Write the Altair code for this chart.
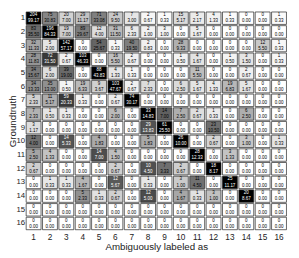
import altair as alt
import pandas as pd

labels = list(range(1, 17))

counts = [
    [204, 75, 20, 29, 71, 24, 7, 2, 1, 15, 5, 4, 1, 0, 0, 1],
    [83, 196, 19, 89, 12, 31, 6, 2, 3, 0, 5, 0, 0, 0, 0, 0],
    [32, 5, 142, 0, 54, 1, 40, 2, 0, 28, 0, 0, 0, 0, 12, 1],
    [28, 72, 2, 103, 0, 16, 2, 0, 0, 1, 4, 0, 1, 3, 0, 1],
    [34, 6, 39, 0, 88, 4, 1, 0, 0, 0, 11, 0, 0, 2, 0, 0],
    [34, 35, 1, 19, 9, 103, 2, 7, 0, 6, 5, 4, 19, 5, 0, 0],
    [5, 11, 59, 1, 0, 2, 74, 0, 0, 0, 0, 0, 0, 0, 0, 0],
    [7, 1, 1, 0, 0, 6, 0, 33, 14, 7, 2, 1, 0, 6, 0, 0],
    [3, 0, 0, 0, 0, 0, 0, 29, 61, 0, 0, 23, 0, 0, 0, 0],
    [12, 0, 14, 0, 4, 0, 0, 5, 0, 26, 0, 2, 0, 3, 0, 1],
    [5, 4, 0, 0, 14, 4, 0, 0, 0, 0, 28, 0, 3, 0, 0, 0],
    [2, 0, 0, 0, 0, 2, 0, 10, 7, 2, 0, 18, 0, 0, 0, 0],
    [0, 1, 1, 4, 0, 12, 0, 1, 0, 3, 11, 0, 25, 0, 0, 0],
    [0, 0, 0, 5, 1, 2, 0, 12, 0, 4, 1, 3, 0, 20, 0, 0],
    [0, 0, 0, 0, 0, 0, 0, 0, 0, 0, 0, 0, 0, 0, 0, 0],
    [0, 0, 0, 0, 0, 0, 0, 0, 0, 0, 0, 0, 0, 0, 0, 0],
]

percents = [
    [99.17, 30.83, 7.00, 11.17, 33.08, 9.50, 3.00, 0.67, 0.33, 5.17, 2.17, 1.33, 0.33, 0, 0, 0.33],
    [35.50, 84.33, 7.00, 29.67, 4.00, 11.50, 2.33, 1.00, 1.00, 0, 1.67, 0, 0, 0, 0, 0],
    [11.33, 2.00, 57.17, 0, 25.67, 0.33, 19.50, 0.83, 0, 9.33, 0, 0, 0, 0, 5.50, 0.33],
    [11.83, 31.50, 0.67, 46.33, 0, 5.50, 0.67, 0, 0, 0.50, 1.67, 0, 0.50, 1.50, 0, 0.33],
    [15.67, 2.00, 19.00, 0, 43.83, 1.33, 0.33, 0, 0, 0, 5.50, 0, 0, 0.67, 0, 0],
    [13.33, 13.00, 0.50, 6.33, 3.67, 47.67, 0.67, 2.33, 0, 2.50, 1.67, 1.33, 6.83, 1.67, 0, 0],
    [2.33, 5.17, 20.33, 0.33, 0, 0.67, 30.17, 0, 0, 0, 0, 0, 0, 0, 0, 0],
    [2.33, 0.50, 0.33, 0, 0, 2.00, 0, 14.83, 7.00, 2.50, 0.67, 0.33, 0, 2.50, 0, 0],
    [1.17, 0, 0, 0, 0, 0, 0, 13.83, 25.50, 0, 0, 10.50, 0, 0, 0, 0],
    [4.00, 0, 5.33, 0, 1.83, 0, 0, 1.83, 0, 10.00, 0, 0.67, 0, 1.00, 0, 0.33],
    [2.50, 1.33, 0, 0, 7.00, 1.50, 0, 0, 0, 0, 12.33, 0, 1.33, 0, 0, 0],
    [0.67, 0, 0, 0, 0, 0.67, 0, 4.50, 3.33, 0.67, 0, 8.17, 0, 0, 0, 0],
    [0, 0.33, 0.33, 1.67, 0, 5.67, 0, 0.33, 0, 1.00, 4.50, 0, 11.17, 0, 0, 0],
    [0, 0, 0, 2.33, 0.33, 0.67, 0, 5.00, 0, 1.67, 0.33, 1.00, 0, 8.67, 0, 0],
    [0, 0, 0, 0, 0, 0, 0, 0, 0, 0, 0, 0, 0, 0, 0, 0],
    [0, 0, 0, 0, 0, 0, 0, 0, 0, 0, 0, 0, 0, 0, 0, 0],
]

rows = []
for i, gt in enumerate(labels):
    rmax = max(percents[i]) or 1
    for j, lab in enumerate(labels):
        rows.append({
            "gt": gt,
            "lab": lab,
            "count": counts[i][j],
            "pct": percents[i][j],
            "pct_txt": f"{percents[i][j]:.2f}",
            "norm": percents[i][j] / rmax,
        })
df = pd.DataFrame(rows)

FONT = "Liberation Sans"

x = alt.X("lab:O", sort=labels, title="Ambiguously labeled as",
          scale=alt.Scale(paddingInner=0.09, paddingOuter=0.04),
          axis=alt.Axis(orient="bottom", labelAngle=0, domain=False, ticks=False,
                        labelPadding=3, labelFontSize=8.5, labelFont=FONT,
                        labelColor="#222", titleFont=FONT, titleFontSize=10,
                        titleFontWeight="normal", titleColor="#222",
                        titleY=12, titleBaseline="top"))
y = alt.Y("gt:O", sort=labels, title="Groundtruth",
          scale=alt.Scale(paddingInner=0.09, paddingOuter=0.04),
          axis=alt.Axis(domain=False, ticks=False, labelPadding=1,
                        labelFontSize=8, labelFont=FONT, labelColor="#222",
                        titleFont=FONT, titleFontSize=10, titleFontWeight="normal",
                        titleColor="#222", titleX=-18.5, titleBaseline="top"))

base = alt.Chart(df).encode(x=x, y=y)

rect = base.mark_rect(stroke="#222", strokeWidth=0.7).encode(
    color=alt.Color("norm:Q",
                    scale=alt.Scale(type="pow", exponent=0.7, domain=[0, 1],
                                    range=["#ffffff", "#000000"]),
                    legend=None)
)

txt_color = alt.condition("datum.norm > 0.5", alt.value("#ffffff"), alt.value("#000000"))

t1 = base.mark_text(fontSize=4.6, font=FONT, dy=-3).encode(
    text="count:Q", color=txt_color)
t2 = base.mark_text(fontSize=4.6, font=FONT, dy=3.2).encode(
    text="pct_txt:N", color=txt_color)

chart = (rect + t1 + t2).properties(
    width=269, height=225,
    autosize=alt.AutoSizeParams(type="none"),
    padding={"left": 18, "top": 0, "right": 4, "bottom": 25},
).configure_view(stroke=None)

chart.save("out.html", embed_options={"renderer": "svg", "actions": False})
